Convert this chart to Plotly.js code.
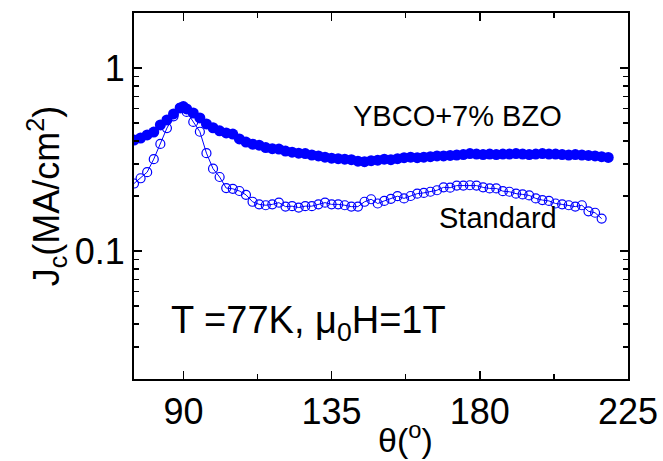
<!DOCTYPE html>
<html>
<head>
<meta charset="utf-8">
<script src="https://cdn.plot.ly/plotly-3.0.1.min.js"></script>
<style>html,body{margin:0;padding:0;background:#fff;}#chart{width:663px;height:461px;}</style>
</head>
<body>
<div id="chart"></div>
<script>
// Angle (degrees) and Jc (MA/cm^2)
const bzoAngle = [75,77,79,81,83,85,87,89,90,91,93,95,97,99,101,103,105,107,109,111,113,115,117,119,121,123,125,127,129,131,133,135,137,139,141,143,145,147,149,151,153,155,157,159,161,163,165,167,169,171,173,175,177,179,181,183,185,187,189,191,193,195,197,199,201,203,205,207,209,211,213,215,217,219];
const bzoJc = [0.404,0.415,0.431,0.447,0.489,0.521,0.562,0.606,0.616,0.598,0.569,0.534,0.495,0.472,0.454,0.442,0.436,0.410,0.394,0.384,0.379,0.368,0.363,0.361,0.352,0.347,0.343,0.341,0.335,0.331,0.326,0.322,0.320,0.318,0.316,0.310,0.308,0.312,0.314,0.318,0.316,0.320,0.324,0.326,0.324,0.326,0.328,0.331,0.331,0.333,0.335,0.337,0.341,0.339,0.337,0.339,0.337,0.339,0.339,0.341,0.339,0.337,0.339,0.341,0.339,0.339,0.337,0.335,0.337,0.335,0.333,0.331,0.328,0.325];

const stdAngle = [75,77,79,81,83,85,87,89,91,93,95,97,99,101,103,105,107,109,111,113,115,117,119,121,123,125,127,129,131,133,135,137,139,141,143,145,147,149,151,153,155,157,159,161,163,165,167,169,171,173,175,177,179,181,183,185,187,189,191,193,195,197,199,201,203,205,207,209,211,213,215,217];
const stdJc = [0.234,0.250,0.270,0.318,0.385,0.470,0.545,0.606,0.576,0.508,0.449,0.343,0.282,0.254,0.221,0.219,0.213,0.203,0.186,0.180,0.178,0.180,0.184,0.175,0.176,0.173,0.176,0.176,0.180,0.184,0.180,0.180,0.178,0.175,0.175,0.186,0.192,0.182,0.188,0.193,0.1995,0.194,0.200,0.206,0.208,0.211,0.215,0.223,0.222,0.228,0.228,0.229,0.228,0.223,0.220,0.220,0.2125,0.211,0.206,0.204,0.2015,0.194,0.190,0.188,0.182,0.180,0.178,0.175,0.178,0.165,0.162,0.1505];

const xTicks = [90,135,180,225];
const xMinor = [112.5,157.5,202.5];
const yTicks = [0.1,1];
const yTickText = ['0.1','1'];
const yMinor = [0.02,0.03,0.04,0.05,0.06,0.07,0.08,0.09,0.2,0.3,0.4,0.5,0.6,0.7,0.8,0.9];

const FONT = 'Liberation Sans, Arial, Helvetica, sans-serif';
const BLUE = '#0000ff';

const traces = [
  {
    x: stdAngle, y: stdJc, type: 'scatter', mode: 'lines+markers', name: 'Standard',
    line: {color: BLUE, width: 1},
    marker: {symbol: 'circle-open', size: 9, color: BLUE, line: {width: 1.2, color: BLUE}}
  },
  {
    x: bzoAngle, y: bzoJc, type: 'scatter', mode: 'lines+markers', name: 'YBCO+7% BZO',
    line: {color: BLUE, width: 2},
    marker: {symbol: 'circle', size: 11, color: BLUE}
  }
];

const layout = {
  width: 663, height: 461,
  margin: {l: 134, r: 35, t: 13, b: 82},
  paper_bgcolor: '#fff', plot_bgcolor: '#fff',
  showlegend: false,
  font: {family: FONT, color: '#000'},
  xaxis: {
    range: [75, 225],
    tickmode: 'array', tickvals: xTicks, ticktext: xTicks.map(String),
    ticks: 'inside', ticklen: 8, tickwidth: 1.5, tickcolor: '#000',
    minor: {tickmode: 'array', tickvals: xMinor, ticks: 'inside', ticklen: 5, tickwidth: 1.5, tickcolor: '#000', showgrid: false},
    showline: true, linewidth: 2, linecolor: '#000', mirror: 'ticks',
    showgrid: false, zeroline: false,
    tickfont: {size: 36, family: FONT, color: '#000'}
  },
  yaxis: {
    type: 'log',
    range: [Math.log10(0.02), Math.log10(2)],
    tickmode: 'array', tickvals: yTicks, ticktext: yTickText,
    ticks: 'inside', ticklen: 8, tickwidth: 1.5, tickcolor: '#000',
    minor: {tickmode: 'array', tickvals: yMinor, ticks: 'inside', ticklen: 5, tickwidth: 1.5, tickcolor: '#000', showgrid: false},
    showline: true, linewidth: 2, linecolor: '#000', mirror: 'ticks',
    showgrid: false, zeroline: false,
    tickfont: {size: 36, family: FONT, color: '#000'},
    title: {text: 'J<sub>c</sub>(MA/cm<sup>2</sup>)', font: {size: 36, family: FONT, color: '#000'}, standoff: 4}
  },
  annotations: [
    {xref: 'paper', yref: 'paper', x: 0.654, y: 0.7186, xanchor: 'center', yanchor: 'middle', showarrow: false,
     text: 'YBCO+7% BZO', font: {size: 29, family: FONT, color: '#000'}},
    {xref: 'paper', yref: 'paper', x: 0.737, y: 0.44, xanchor: 'center', yanchor: 'middle', showarrow: false,
     text: 'Standard', font: {size: 29, family: FONT, color: '#000'}},
    {xref: 'paper', yref: 'paper', x: 0.07, y: 0.153, xanchor: 'left', yanchor: 'middle', showarrow: false,
     text: 'T =77K, μ<sub>0</sub>H=1T', font: {size: 38, family: FONT, color: '#000'}},
    // x-axis title, placed where the reference draws it (slightly right of centre)
    {xref: 'paper', yref: 'paper', x: (405 - 134) / 494, y: -0.222, xanchor: 'center', yanchor: 'bottom', showarrow: false,
     borderpad: 0, text: 'θ(<sup>o</sup>)', font: {size: 34, family: FONT, color: '#000'}}
  ]
};

Plotly.newPlot('chart', traces, layout, {displayModeBar: false, staticPlot: true});
</script>
</body>
</html>
